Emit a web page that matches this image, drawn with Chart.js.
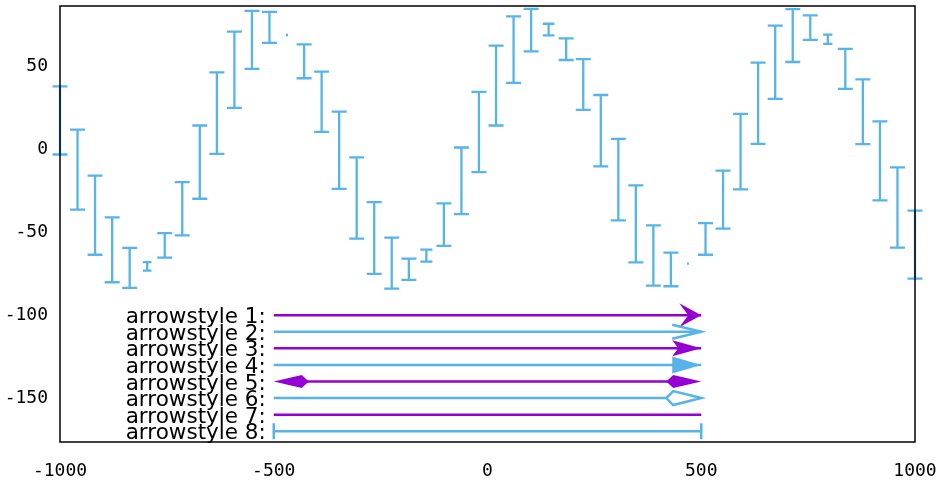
<!DOCTYPE html>
<html>
<head>
<meta charset="utf-8">
<script src="https://cdn.jsdelivr.net/npm/chart.js@4/dist/chart.umd.min.js"></script>
<style>
  html,body{margin:0;padding:0;background:#fff;}
  #wrap{width:944px;height:482px;}
</style>
</head>
<body>
<div id="wrap"><canvas id="c" width="944" height="482"></canvas></div>
<script>
// error bar positions and ranges
const xs=[-1000,-959,-918,-878,-837,-796,-755,-714,-673,-633,-592,-551,-510,-469,-429,-388,-347,-306,-265,-224,-184,-143,-102,-61,-20,20,61,102,143,184,224,265,306,347,388,429,469,510,551,592,633,673,714,755,796,837,878,918,959,1000];
const hi=[38.1,12.0,-15.7,-41.0,-59.4,-67.9,-50.4,-19.7,14.5,46.6,71.1,83.7,83.1,69.1,63.4,47.0,22.9,-4.8,-31.7,-53.2,-65.9,-60.4,-32.5,1.2,34.8,62.7,80.3,84.9,75.9,67.1,54.6,32.9,6.4,-21.7,-45.8,-62.2,-68.9,-44.4,-12.7,21.5,52.4,74.7,84.7,80.9,69.3,60.7,42.3,17.0,-10.8,-36.9];
const lo=[-3.0,-36.3,-63.5,-80.1,-83.5,-73.1,-65.3,-51.8,-29.7,-2.6,25.1,48.6,64.3,69.1,43.0,10.7,-23.7,-53.8,-75.1,-83.9,-78.7,-67.7,-58.2,-39.0,-13.6,14.5,40.2,59.2,68.9,54.0,23.9,-10.2,-42.8,-68.1,-82.1,-82.5,-68.9,-63.5,-47.8,-24.1,3.4,30.5,52.8,66.1,63.7,36.6,3.2,-30.7,-59.2,-77.9];

// arrows
const arrowLabels=['arrowstyle 1:','arrowstyle 2:','arrowstyle 3:','arrowstyle 4:','arrowstyle 5:','arrowstyle 6:','arrowstyle 7:','arrowstyle 8:'];
const arrowY=[-100,-110,-120,-130,-140,-150,-160,-170];
const arrowFrom=-500, arrowTo=500;

const xTicks=[-1000,-500,0,500,1000];
const yTicks=[-150,-100,-50,0,50];

const BLUE='#56b4e9', PURPLE='#9400d3';
const arrowColors=[PURPLE,BLUE,PURPLE,BLUE,PURPLE,BLUE,PURPLE,BLUE];

function poly(ctx,pts,fill){
  ctx.beginPath();
  pts.forEach((p,i)=>i?ctx.lineTo(p[0],p[1]):ctx.moveTo(p[0],p[1]));
  ctx.closePath();
  if(fill) ctx.fill(); else ctx.stroke();
}

function noPad(s){s.paddingTop=0;s.paddingBottom=0;s.paddingLeft=0;s.paddingRight=0;}

const drawPlugin={
  id:'marks',
  afterDraw(chart){
    const {ctx,chartArea:a,scales:{x,y}}=chart;
    ctx.save();
    // error bars
    ctx.strokeStyle=BLUE; ctx.lineWidth=2.3; ctx.lineCap='butt';
    xs.forEach((xv,i)=>{
      const px=x.getPixelForValue(xv), pt=y.getPixelForValue(hi[i]), pb=y.getPixelForValue(lo[i]);
      const h=Math.max(1,Math.min(7.5,(pb-pt)/2));
      ctx.beginPath();
      ctx.moveTo(px,pt);ctx.lineTo(px,pb);
      ctx.moveTo(px-h,pt);ctx.lineTo(px+h,pt);
      ctx.moveTo(px-h,pb);ctx.lineTo(px+h,pb);
      ctx.stroke();
    });
    // arrows
    const x0=x.getPixelForValue(arrowFrom), x1=x.getPixelForValue(arrowTo);
    ctx.font='21.5px "DejaVu Sans"';
    ctx.textAlign='right'; ctx.textBaseline='alphabetic';
    arrowY.forEach((yv,k)=>{
      const py=y.getPixelForValue(yv), col=arrowColors[k];
      ctx.fillStyle='#000';
      ctx.fillText(arrowLabels[k],x0-8,py+8);
      ctx.strokeStyle=col; ctx.fillStyle=col; ctx.lineWidth=2.5;
      let ls=x0, le=x1;
      if(k===4){ls=x0+33;le=x1-33;}
      if(k===5){le=x1-35;}
      ctx.beginPath();ctx.moveTo(ls,py);ctx.lineTo(le,py);ctx.stroke();
      const t=x1;
      if(k===0) poly(ctx,[[t,py],[t-22,py-12],[t-13,py],[t-22,py+12]],true);
      if(k===1){ctx.beginPath();ctx.moveTo(t-29,py-7);ctx.lineTo(t,py);ctx.lineTo(t-29,py+7);ctx.stroke();}
      if(k===2) poly(ctx,[[t,py],[t-29,py-8],[t-23,py],[t-29,py+8]],true);
      if(k===3) poly(ctx,[[t,py],[t-29,py-8.5],[t-29,py+8.5]],true);
      if(k===4){
        poly(ctx,[[t,py],[t-28,py-6.5],[t-35,py],[t-28,py+6.5]],true);
        poly(ctx,[[x0,py],[x0+28,py-6.5],[x0+35,py],[x0+28,py+6.5]],true);
      }
      if(k===5) poly(ctx,[[t,py],[t-28,py-7],[t-35,py],[t-28,py+7]],false);
      if(k===7){
        ctx.beginPath();
        ctx.moveTo(x0,py-8);ctx.lineTo(x0,py+8);
        ctx.moveTo(x1,py-8);ctx.lineTo(x1,py+8);
        ctx.stroke();
      }
    });
    // frame
    ctx.strokeStyle='#000'; ctx.lineWidth=1.5;
    ctx.strokeRect(a.left,a.top,a.right-a.left,a.bottom-a.top);
    ctx.restore();
  }
};

new Chart(document.getElementById('c'),{
  type:'scatter',
  data:{datasets:[{data:xs.map((v,i)=>({x:v,y:(hi[i]+lo[i])/2})),pointRadius:0,showLine:false}]},
  options:{
    responsive:false,animation:false,
    layout:{padding:{top:6,right:29,left:0,bottom:0}},
    plugins:{legend:{display:false},tooltip:{enabled:false}},
    scales:{
      x:{type:'linear',min:-1000,max:1000,
        afterFit(s){s.height=40;noPad(s);},
        afterBuildTicks(s){s.ticks=xTicks.map(v=>({value:v}));},
        grid:{display:false,drawTicks:false},border:{display:false},
        ticks:{padding:19,color:'#000',font:{family:'"DejaVu Sans Mono"',size:18},maxRotation:0,autoSkip:false,callback:v=>String(v)}},
      y:{type:'linear',min:-176.5,max:86.6,
        afterFit(s){s.width=60;noPad(s);},
        afterBuildTicks(s){s.ticks=yTicks.map(v=>({value:v}));},
        grid:{display:false,drawTicks:false},border:{display:false},
        ticks:{padding:12,color:'#000',font:{family:'"DejaVu Sans Mono"',size:18},callback:v=>String(v)}}
    }
  },
  plugins:[drawPlugin]
});
</script>
</body>
</html>
